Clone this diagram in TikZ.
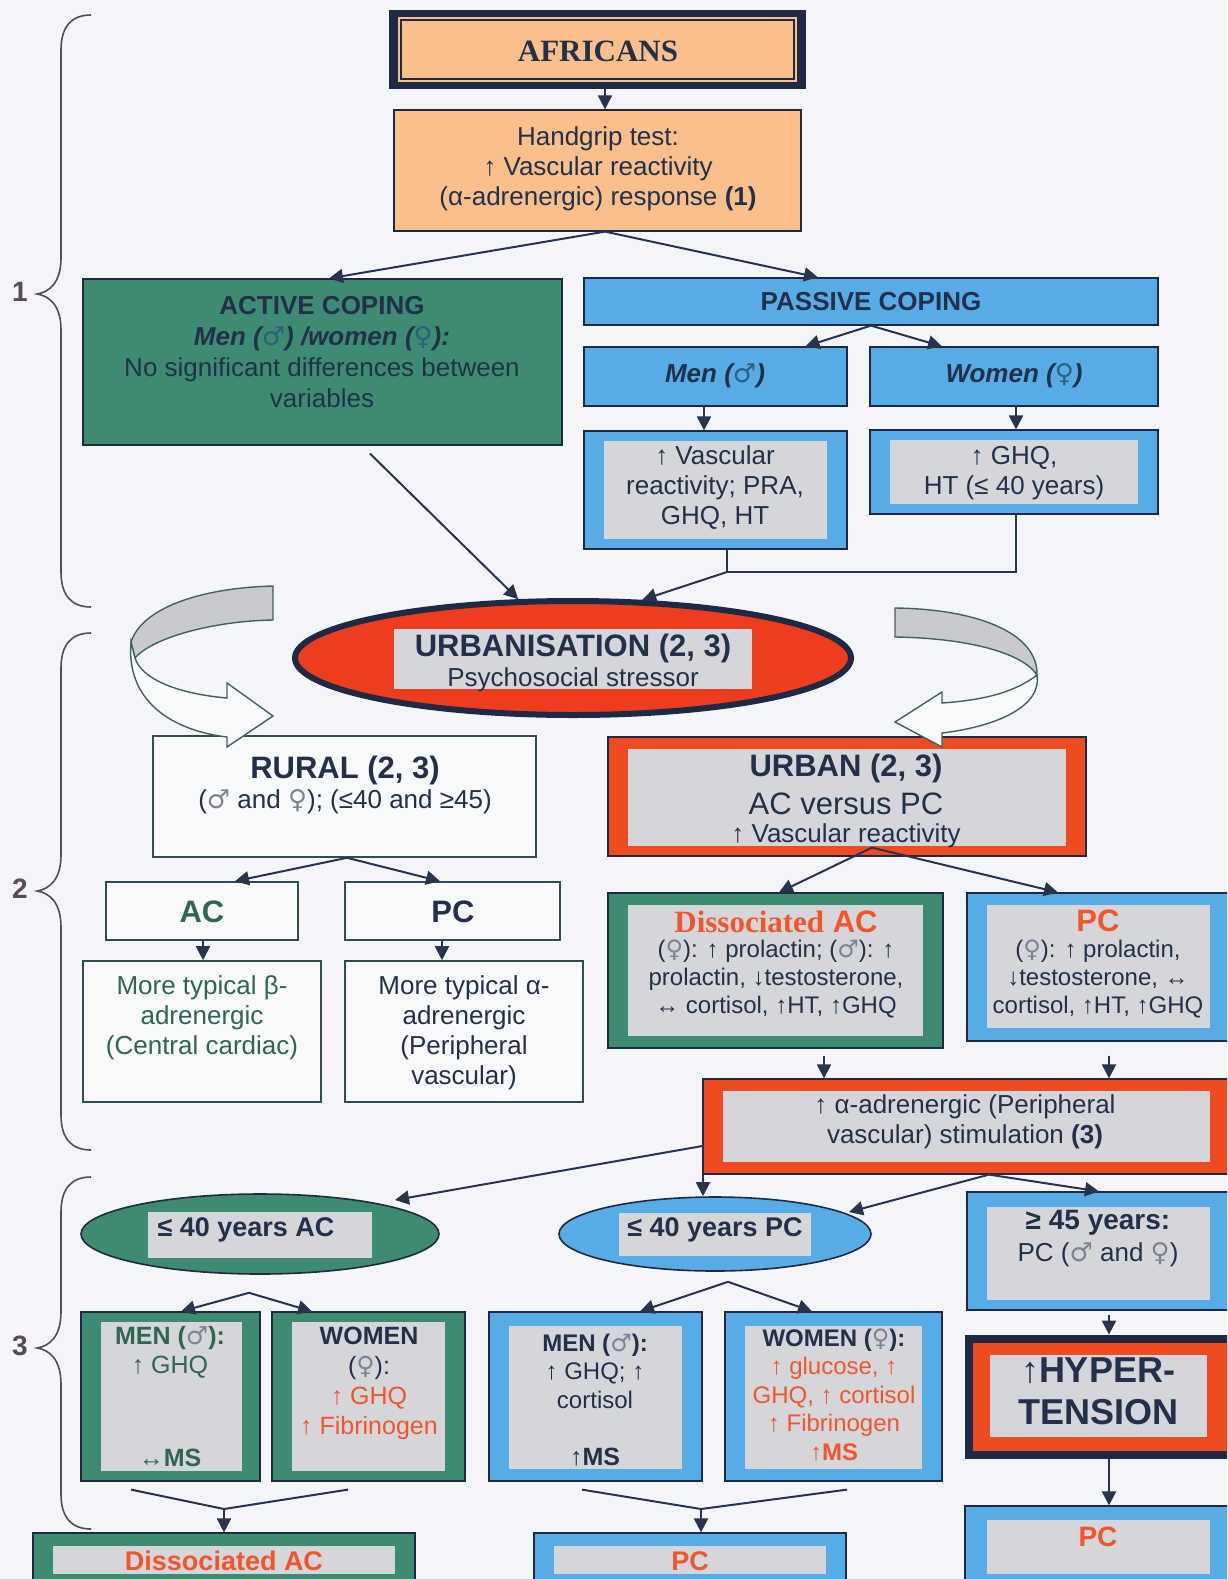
\documentclass[tikz,border=0pt]{standalone}
\usepackage{fontspec}
\setmainfont{Liberation Sans}
\newfontfamily\serifb{Liberation Serif}
\newfontfamily\symf{DejaVu Sans}
\usetikzlibrary{arrows.meta,shapes.geometric,fit}
\definecolor{bgC}{HTML}{F3F5F9}
\definecolor{navyC}{HTML}{1E2944}
\definecolor{peachC}{HTML}{FBBF8C}
\definecolor{greenC}{HTML}{3D8B72}
\definecolor{blueC}{HTML}{58ACE6}
\definecolor{grayC}{HTML}{D5D6D9}
\definecolor{redC}{HTML}{EF4A22}
\definecolor{urbC}{HTML}{EE3C1E}
\definecolor{txtC}{HTML}{23304A}
\definecolor{redT}{HTML}{F2542C}
\definecolor{grT}{HTML}{2F6552}
\definecolor{symC}{HTML}{7A8594}
\definecolor{symD}{HTML}{2C5F7C}
\definecolor{lineC}{HTML}{28344F}
\definecolor{braceC}{HTML}{5A4A55}
\definecolor{ribC}{HTML}{44605E}
\definecolor{ribG}{HTML}{C8CACE}
\definecolor{wbox}{HTML}{F8F9FB}
\definecolor{wbC}{HTML}{2E4E52}
\newcommand\fsz[2]{\fontsize{#1}{#2}\selectfont}
\newcommand\ma{{\symf\color{symC}♂}}
\newcommand\fe{{\symf\color{symC}♀}}
\newcommand\maD{{\symf\color{symD}♂}}
\newcommand\feD{{\symf\color{symD}♀}}
\tikzset{
  bx/.style={inner sep=0pt, draw=navyC, line width=0.6pt},
  wboxst/.style={inner sep=0pt, draw=wbC, line width=0.8pt, fill=wbox},
  conn/.style={draw=lineC, line width=1pt},
  arr/.style={conn, -{Triangle[length=7pt,width=7pt]}},
  txt/.style={align=center, inner sep=0pt, text=txtC, font=\fsz{13}{15}},
  hd/.style={align=center, inner sep=0pt, text=txtC, font=\bfseries\fsz{15.5}{18}},
  rib/.style={draw=ribC, line width=0.7pt},
  lbl/.style={inner sep=0pt, text=braceC, font=\bfseries\fsz{14}{16}},
}
\begin{document}
\begin{tikzpicture}[x=0.5pt,y=-0.5pt]
\useasboundingbox (0,0) rectangle (1227,1579);
\clip (0,0) rectangle (1227,1579);
\fill[bgC] (0,0) rectangle (1227,1579);

% ---------- braces ----------
\draw[braceC,line width=0.8pt] (91,15) .. controls (72,15) and (61,26) .. (61,50) -- (61,258) .. controls (61,282) and (50,292) .. (37,294) .. controls (50,296) and (61,306) .. (61,330) -- (61,572) .. controls (61,596) and (72,607) .. (91,607);
\draw[braceC,line width=0.8pt] (91,633) .. controls (72,633) and (61,644) .. (61,668) -- (61,855) .. controls (61,879) and (50,889) .. (37,891) .. controls (50,893) and (61,903) .. (61,927) -- (61,1115) .. controls (61,1139) and (72,1150) .. (91,1150);
\draw[braceC,line width=0.8pt] (91,1177) .. controls (72,1177) and (61,1188) .. (61,1212) -- (61,1312) .. controls (61,1336) and (50,1346) .. (37,1348) .. controls (50,1350) and (61,1360) .. (61,1384) -- (61,1494) .. controls (61,1518) and (72,1529) .. (91,1529);
\node (l1) [lbl] at (20,292) {1};
\node (l2) [lbl] at (20,889) {2};
\node (l3) [lbl] at (20,1346) {3};

% ---------- section 1 ----------
\node (afr) [fit={(389,10)(806,89)}, inner sep=0pt, fill=navyC] {};
\fill[peachC] (398,17) rectangle (797,82);
\draw[navyC,line width=0.6pt] (401,20) rectangle (794,79);
\node (afrT) [hd, font=\serifb\bfseries\fsz{15.5}{18}] at (598,51) {AFRICANS};

\node (hand) [bx, fill=peachC, fit={(394,110)(801,231)}] {};
\node (handT) [txt] at (598,169) {Handgrip test:\\↑ Vascular reactivity\\(α-adrenergic) response \textbf{(1)}};

\node (act) [bx, fill=greenC, fit={(83,279)(562,445)}] {};
\node (actT) [txt, font=\fsz{13}{15.5}] at (322,352) {\textbf{ACTIVE COPING}\\\textbf{\itshape Men (\maD) /women (\feD):}\\No significant differences between\\variables};

\node (pas) [bx, fill=blueC, fit={(584,278)(1158,325)}] {};
\node (pasT) [txt, font=\bfseries\fsz{13}{15}] at (871,302) {PASSIVE COPING};
\node (men) [bx, fill=blueC, fit={(584,347)(847,406)}] {};
\node (menT) [txt, font=\bfseries\itshape\fsz{13}{15}] at (715,376) {Men (\maD)};
\node (wom) [bx, fill=blueC, fit={(870,347)(1158,406)}] {};
\node (womT) [txt, font=\bfseries\itshape\fsz{13}{15}] at (1014,376) {Women (\feD)};
\node (mend) [bx, fill=blueC, fit={(584,431)(847,549)}] {};
\fill[grayC] (604,441) rectangle (827,539);
\node (mendT) [txt] at (715,488) {↑ Vascular\\reactivity; PRA,\\GHQ, HT};
\node (womd) [bx, fill=blueC, fit={(870,430)(1158,514)}] {};
\fill[grayC] (890,440) rectangle (1138,504);
\node (womdT) [txt] at (1014,473) {↑ GHQ,\\HT (≤ 40 years)};

\draw[arr] ([xshift=3.75pt]afr.south) -- ([xshift=3.75pt]hand.north);
\coordinate (hs) at ([xshift=3.75pt]hand.south);
\draw[arr] (hs) -- ([xshift=3.25pt]act.north);
\draw[arr] (hs) -- ([xshift=-26.5pt]pas.north);
\draw[arr] (pas.south) -- ([xshift=45pt]men.north);
\draw[arr] (pas.south) -- ([xshift=-36pt]wom.north);
\draw[arr] ([xshift=-5.75pt]men.south) -- ([xshift=-5.75pt]mend.north);
\draw[arr] ([xshift=1pt]wom.south) -- ([xshift=1pt]womd.north);

% ---------- urbanisation ----------
\node (urb) [ellipse, draw=navyC, line width=3pt, fill=urbC, minimum width=278pt, minimum height=57pt, inner sep=0pt] at (573,658) {};
\fill[grayC] (394,629) rectangle (752,689);
\node (urbT1) [hd] at (573,648) {URBANISATION (2, 3)};
\node (urbT2) [txt] at (573,680) {Psychosocial stressor};

\coordinate (j1) at (727,572);
\draw[conn] ([xshift=5.75pt]mend.south) -- (j1);
\draw[conn] ([xshift=1pt]womd.south) |- (j1);
\draw[arr] (j1) -- (urb.40);
\draw[arr] ([xshift=23.75pt,yshift=-4pt]act.south) -- (urb.133);

% ---------- section 2 ----------
\node (rur) [wboxst, fit={(153,736)(536,857)}] {};
\node (rurH) [hd] at (345,770) {RURAL (2, 3)};
\node (rurB) [txt] at (345,802) {(\ma\ and \fe); (≤40 and ≥45)};
\node (acR) [wboxst, fit={(106,882)(298,940)}] {};
\node (acRT) [hd, text=grT] at (202,912) {AC};
\node (pcR) [wboxst, fit={(345,882)(560,940)}] {};
\node (pcRT) [hd] at (453,912) {PC};
\node (betaB) [wboxst, fit={(83,961)(321,1102)}] {};
\node (betaT) [txt, text=grT] at (202,1018) {More typical β-\\adrenergic\\(Central cardiac)};
\node (alphaB) [wboxst, fit={(345,961)(583,1102)}] {};
\node (alphaT) [txt] at (464,1033) {More typical α-\\adrenergic\\(Peripheral\\vascular)};
\draw[arr] ([xshift=1.25pt]rur.south) -- ([xshift=16.5pt]acR.north);
\draw[arr] ([xshift=1.25pt]rur.south) -- ([xshift=-6.25pt]pcR.north);
\draw[arr] ([xshift=0.5pt]acR.south) -- ([xshift=0.5pt]betaB.north);
\draw[arr] ([xshift=-5.25pt]pcR.south) -- ([xshift=-11pt]alphaB.north);

\node (urbn) [bx, fill=redC, fit={(608,737)(1086,856)}] {};
\fill[grayC] (628,749) rectangle (1066,846);
\node (urbnH) [hd] at (846,768) {URBAN (2, 3)};
\node (urbnB) [txt, font=\fsz{15.5}{17}] at (846,804) {AC versus PC};
\node (urbnC) [txt] at (846,836) {↑ Vascular reactivity};

\node (dac) [bx, fill=greenC, fit={(608,893)(943,1048)}] {};
\fill[grayC] (628,905) rectangle (923,1036);
\node (dacH) [hd, text=redT] at (776,922) {{\serifb\bfseries Dissociated} AC};
\node (dacT) [txt, font=\fsz{12}{14}] at (776,979) {(\fe): ↑ prolactin; (\ma): ↑\\prolactin, ↓testosterone,\\↔ cortisol, ↑HT, ↑GHQ};
\node (pcU) [bx, fill=blueC, fit={(967,893)(1240,1041)}] {};
\fill[grayC] (987,905) rectangle (1210,1028);
\node (pcUH) [hd, text=redT] at (1098,921) {PC};
\node (pcUT) [txt, font=\fsz{12}{14}] at (1098,979) {(\fe): ↑ prolactin,\\↓testosterone, ↔\\cortisol, ↑HT, ↑GHQ};

\coordinate (uv) at ([xshift=12.5pt,yshift=4.5pt]urbn.south);
\draw[arr] (uv) -- ([xshift=1.75pt]dac.north);
\draw[arr] (uv) -- ([xshift=-22.75pt]pcU.north);

\node (stim) [bx, fill=redC, fit={(703,1079)(1240,1174)}] {};
\fill[grayC] (723,1091) rectangle (1210,1162);
\node (stimT) [txt] at (965,1122) {↑ α-adrenergic (Peripheral\\vascular) stimulation \textbf{(3)}};
\draw[arr] ([xshift=24.25pt,yshift=-3.5pt]dac.south) -- ([xshift=-73.75pt]stim.north);
\draw[arr] ([xshift=2.75pt,yshift=-7pt]pcU.south) -- ([xshift=68.75pt]stim.north);

% ---------- section 3 ----------
\node (e40ac) [ellipse, draw=navyC, line width=0.8pt, fill=greenC, minimum width=179pt, minimum height=40pt, inner sep=0pt] at (260,1234) {};
\fill[grayC] (148,1212) rectangle (372,1258);
\node (e40acT) [txt, font=\bfseries\fsz{13.5}{15}] at (246,1230) {≤ 40 years AC};
\node (e40pc) [ellipse, draw=navyC, line width=0.8pt, fill=blueC, minimum width=156pt, minimum height=37pt, inner sep=0pt] at (715,1234) {};
\fill[grayC] (619,1213) rectangle (811,1256);
\node (e40pcT) [txt, font=\bfseries\fsz{13.5}{15}] at (715,1230) {≤ 40 years PC};
\node (g45) [bx, fill=blueC, fit={(967,1192)(1240,1310)}] {};
\fill[grayC] (987,1207) rectangle (1210,1300);
\node (g45H) [txt, font=\bfseries\fsz{14}{16}] at (1098,1223) {≥ 45 years:};
\node (g45T) [txt] at (1098,1255) {PC (\ma\ and \fe)};

\coordinate (e40tip) at (395,1200);
\draw[arr] ([yshift=-9.75pt]stim.west) -- (e40tip);
\draw[arr] ([xshift=-134.25pt]stim.south) -- ([xshift=-6pt]e40pc.north);
\coordinate (sv) at ([xshift=8.75pt]stim.south);
\coordinate (e40pctip) at (849,1212);
\draw[arr] (sv) -- (e40pctip);
\draw[arr] (sv) -- ([xshift=-2.25pt]g45.north);

\node (menA) [bx, fill=greenC, fit={(81,1312)(260,1481)}] {};
\fill[grayC] (101,1322) rectangle (242,1471);
\node (menAT) [txt, text=grT, font=\fsz{12.5}{14.5}] at (170,1352) {\textbf{MEN (\ma):}\\↑ GHQ};
\node (menAM) [txt, text=grT, font=\bfseries\fsz{12.5}{14.5}] at (170,1458) {{\mdseries↔}MS};
\node (womA) [bx, fill=greenC, fit={(272,1312)(465,1481)}] {};
\fill[grayC] (292,1322) rectangle (445,1471);
\node (womAT) [txt, font=\fsz{12.5}{15}] at (369,1383) {\textbf{WOMEN}\\(\fe):\\\textcolor{redT}{↑ GHQ}\\\textcolor{redT}{↑ Fibrinogen}};

\node (menP) [bx, fill=blueC, fit={(489,1312)(702,1481)}] {};
\fill[grayC] (509,1326) rectangle (682,1469);
\node (menPT) [txt, font=\fsz{12}{14.25}] at (595,1371) {\textbf{MEN (\ma):}\\↑ GHQ; ↑\\cortisol};
\node (menPM) [txt, font=\bfseries\fsz{12.5}{14.5}] at (595,1457) {{\mdseries↑}MS};
\node (womP) [bx, fill=blueC, fit={(725,1312)(942,1481)}] {};
\fill[grayC] (745,1326) rectangle (922,1469);
\node (womPT) [txt, font=\fsz{12}{14.25}] at (834,1395) {\textbf{WOMEN (\fe):}\\\textcolor{redT}{↑ glucose, ↑}\\\textcolor{redT}{GHQ, ↑ cortisol}\\\textcolor{redT}{↑ Fibrinogen}\\\textcolor{redT}{\textbf{↑MS}}};

\coordinate (lv) at ([xshift=-5.5pt,yshift=-9pt]e40ac.south);
\draw[arr] (lv) -- ([xshift=5.25pt]menA.north);
\draw[arr] (lv) -- ([xshift=-28.25pt]womA.north);
\coordinate (mv) at ([xshift=6.5pt,yshift=-5pt]e40pc.south);
\draw[arr] (mv) -- ([xshift=22.25pt]menP.north);
\draw[arr] (mv) -- ([xshift=-10.75pt]womP.north);

\node (ht) [fit={(965,1335)(1240,1459)}, inner sep=0pt, fill=navyC] {};
\fill[redC] (973,1343) rectangle (1240,1451);
\fill[grayC] (990,1355) rectangle (1207,1437);
\node (htT) [txt, font=\bfseries\fsz{18}{21}] at (1098,1391) {{\mdseries↑}HYPER-\\TENSION};
\draw[arr] ([xshift=2.75pt,yshift=-2pt]g45.south) -- ([xshift=3.25pt]ht.north);

\node (pcR2) [bx, fill=blueC, fit={(965,1506)(1240,1600)}] {};
\fill[grayC] (987,1520) rectangle (1210,1574);
\node (pcR2T) [txt, text=redT, font=\bfseries\fsz{14}{16}] at (1098,1537) {PC};
\draw[arr] ([xshift=3.25pt]ht.south) -- ([xshift=3.25pt]pcR2.north);

\node (dacB) [bx, fill=greenC, fit={(33,1533)(415,1600)}] {};
\fill[grayC] (53,1546) rectangle (395,1574);
\node (dacBT) [txt, text=redT, font=\bfseries\fsz{13.5}{15}] at (224,1561) {Dissociated AC};
\node (pcB) [bx, fill=blueC, fit={(534,1533)(846,1600)}] {};
\fill[grayC] (554,1546) rectangle (826,1574);
\node (pcBT) [txt, text=redT, font=\bfseries\fsz{13.5}{15}] at (690,1561) {PC};

\coordinate (bv1) at (224,1509);
\draw[conn] ([xshift=-19.75pt,yshift=-4pt]menA.south) -- (bv1);
\draw[conn] ([xshift=-10.25pt,yshift=-4pt]womA.south) -- (bv1);
\draw[arr] (bv1) -- (dacB.north);
\coordinate (bv2) at (701,1509);
\draw[conn] ([xshift=-6.75pt,yshift=-4pt]menP.south) -- (bv2);
\draw[conn] ([xshift=6.75pt,yshift=-4pt]womP.south) -- (bv2);
\draw[arr] (bv2) -- ([xshift=5.5pt]pcB.north);

% ---------- curved arrows ----------
\filldraw[rib, fill=ribG] (273,586) .. controls (200,588) and (142,608) .. (131,642) -- (135,658) .. controls (152,638) and (212,621) .. (273,620) -- cycle;
\filldraw[rib, fill=wbox] (131,642) .. controls (126,700) and (170,730) .. (227,737) -- (227,747) -- (273,716) -- (227,683) -- (227,698) .. controls (180,694) and (142,680) .. (135,658) -- cycle;
\filldraw[rib, fill=ribG] (895,608) .. controls (975,609) and (1038,632) .. (1037,675) .. controls (1022,652) and (965,638) .. (895,637) -- cycle;
\filldraw[rib, fill=wbox] (1037,675) .. controls (1015,692) and (985,700) .. (942,703) -- (942,692) -- (895,722) -- (942,747) -- (942,733) .. controls (1000,726) and (1042,705) .. (1037,675) -- cycle;
\end{tikzpicture}
\end{document}
